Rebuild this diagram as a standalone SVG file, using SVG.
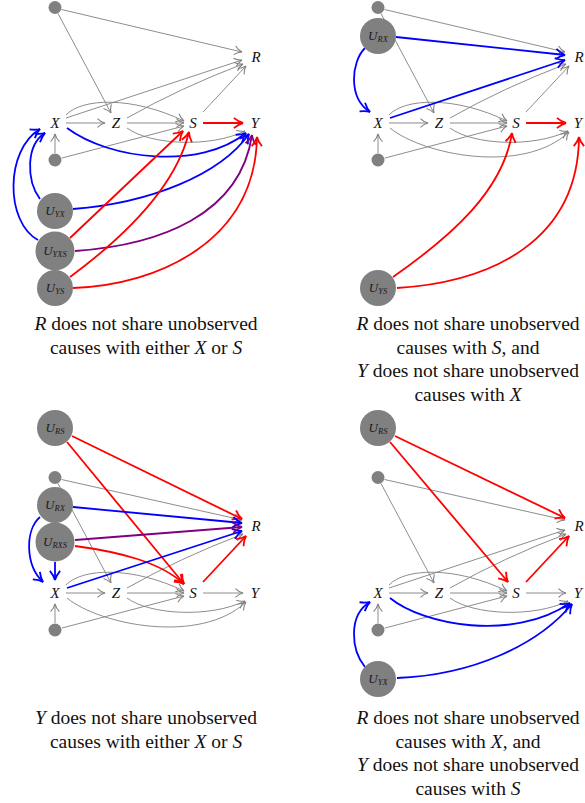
<svg xmlns="http://www.w3.org/2000/svg" width="585" height="803" viewBox="0 0 585 803">
<style>
.e{fill:none;stroke:#808080;stroke-width:0.9;marker-end:url(#ag)}
.r{fill:none;stroke:#ff0000;stroke-width:1.8;marker-end:url(#ar)}
.b{fill:none;stroke:#0000ff;stroke-width:1.8;marker-end:url(#ab)}
.p{fill:none;stroke:#800080;stroke-width:1.8;marker-end:url(#ap)}
.n{fill:#808080}
.lab{font-family:"Liberation Serif",serif;font-style:italic;font-size:15px;fill:#111;text-anchor:middle}
.u{font-family:"Liberation Serif",serif;font-style:italic;font-size:13px;fill:#1a1a1a;text-anchor:middle}
.sub{font-size:8.5px}
.cap{font-family:"Liberation Serif",serif;font-size:19.5px;fill:#111;text-anchor:middle}
.i{font-style:italic}
</style>
<defs>
<marker id="ag" markerUnits="userSpaceOnUse" markerWidth="14" markerHeight="14" refX="0" refY="0" viewBox="-8 -6 10 12" orient="auto" overflow="visible"><path d="M-6.5,-3.8 C-4.3,-1.6 -1.6,-0.4 0,0 C-1.6,0.4 -4.3,1.6 -6.5,3.8" fill="none" stroke="#808080" stroke-width="0.9"/></marker>
<marker id="ar" markerUnits="userSpaceOnUse" markerWidth="16" markerHeight="16" refX="0" refY="0" viewBox="-10 -7 12 14" orient="auto" overflow="visible"><path d="M-8,-4.5 C-5,-2 -2,-0.5 0,0 C-2,0.5 -5,2 -8,4.5" fill="none" stroke="#ff0000" stroke-width="1.6"/></marker>
<marker id="ab" markerUnits="userSpaceOnUse" markerWidth="16" markerHeight="16" refX="0" refY="0" viewBox="-10 -7 12 14" orient="auto" overflow="visible"><path d="M-8,-4.5 C-5,-2 -2,-0.5 0,0 C-2,0.5 -5,2 -8,4.5" fill="none" stroke="#0000ff" stroke-width="1.6"/></marker>
<marker id="ap" markerUnits="userSpaceOnUse" markerWidth="16" markerHeight="16" refX="0" refY="0" viewBox="-10 -7 12 14" orient="auto" overflow="visible"><path d="M-8,-4.5 C-5,-2 -2,-0.5 0,0 C-2,0.5 -5,2 -8,4.5" fill="none" stroke="#800080" stroke-width="1.6"/></marker>
</defs>

<!-- Top-left panel -->
<g id="panel-tl">
<g id="tl-edges">
<path class="e" d="M61.5,9.5 L242,52"/>
<path class="e" d="M58,13.5 L111,113"/>
<path class="e" d="M66,123 L105,123"/>
<path class="e" d="M127,123 L184,123"/>
<path class="e" d="M66,115 C82,98 132,96 184,121"/>
<path class="e" d="M127,128 C150,145 210,148 245,131"/>
<path class="e" d="M55,153 L55,134"/>
<path class="e" d="M62,158 L184,126"/>
<path class="e" d="M66,118 L242,60"/>
<path class="e" d="M127,118 Q180,88 243,64"/>
<path class="e" d="M203,112 L246,66"/>
<path class="r" d="M203,123 L243,123"/>
<path class="b" d="M67,128 C110,160 200,170 246,133"/>
<path class="b" d="M40,199 C26,180 26,145 45,133"/>
<path class="b" d="M38,240 C5,222 5,150 40,129"/>
<path class="b" d="M73,209 C150,203 220,175 249,134"/>
<path class="p" d="M75,251 C160,245 240,215 252,135"/>
<path class="r" d="M70,238 L183,131"/>
<path class="r" d="M70,277 C120,240 175,190 189,132"/>
<path class="r" d="M73,288 C160,285 255,240 257,137"/>
</g>
<g id="tl-W"><circle class="n" cx="55" cy="7.5" r="6.5"/></g>
<g id="tl-P"><circle class="n" cx="55" cy="160" r="6.5"/></g>
<g id="tl-UYX"><circle class="n" cx="55" cy="211" r="18"/><text class="u" x="55" y="215">U<tspan class="sub" dy="1.5">YX</tspan></text></g>
<g id="tl-UYXS"><circle class="n" cx="55" cy="251" r="19.5"/><text class="u" x="55" y="255">U<tspan class="sub" dy="1.5">YXS</tspan></text></g>
<g id="tl-UYS"><circle class="n" cx="55" cy="288" r="18"/><text class="u" x="55" y="292">U<tspan class="sub" dy="1.5">YS</tspan></text></g>
<g id="tl-X"><text class="lab" x="55" y="128">X</text></g>
<g id="tl-Z"><text class="lab" x="116" y="128">Z</text></g>
<g id="tl-S"><text class="lab" x="193" y="128">S</text></g>
<g id="tl-Y"><text class="lab" x="255" y="128">Y</text></g>
<g id="tl-R"><text class="lab" x="256" y="62">R</text></g>
<g id="tl-caption">
<text class="cap" x="146" y="330"><tspan class="i">R</tspan> does not share unobserved</text>
<text class="cap" x="146" y="353.5">causes with either <tspan class="i">X</tspan> or <tspan class="i">S</tspan></text>
</g>
</g>

<!-- Top-right panel -->
<g id="panel-tr" transform="translate(323,0)">
<g id="tr-edges">
<path class="e" d="M61.5,9.5 L242,52"/>
<path class="e" d="M58,13.5 L111,113"/>
<path class="e" d="M66,123 L105,123"/>
<path class="e" d="M127,123 L184,123"/>
<path class="e" d="M66,115 C82,98 132,96 184,121"/>
<path class="e" d="M127,128 C150,145 210,148 245,131"/>
<path class="e" d="M55,153 L55,134"/>
<path class="e" d="M62,158 L184,126"/>
<path class="e" d="M127,118 Q180,88 243,64"/>
<path class="e" d="M203,112 L246,66"/>
<path class="e" d="M67,128 C100,155 200,175 246,132"/>
<path class="r" d="M203,123 L243,123"/>
<path class="b" d="M73,37 L242,55"/>
<path class="b" d="M67,118 L242,60"/>
<path class="b" d="M42,48 C28,62 25,98 47,112"/>
<path class="r" d="M70,277 C130,235 180,190 189,133"/>
<path class="r" d="M74,288 C170,282 255,240 256,137"/>
</g>
<g id="tr-W"><circle class="n" cx="55" cy="7.5" r="6.5"/></g>
<g id="tr-URX"><circle class="n" cx="55" cy="36" r="18"/><text class="u" x="55" y="40">U<tspan class="sub" dy="1.5">RX</tspan></text></g>
<g id="tr-P"><circle class="n" cx="55" cy="160" r="6.5"/></g>
<g id="tr-UYS"><circle class="n" cx="55" cy="288" r="18"/><text class="u" x="55" y="292">U<tspan class="sub" dy="1.5">YS</tspan></text></g>
<g id="tr-X"><text class="lab" x="55" y="128">X</text></g>
<g id="tr-Z"><text class="lab" x="116" y="128">Z</text></g>
<g id="tr-S"><text class="lab" x="193" y="128">S</text></g>
<g id="tr-Y"><text class="lab" x="255" y="128">Y</text></g>
<g id="tr-R"><text class="lab" x="256" y="62">R</text></g>
<g id="tr-caption">
<text class="cap" x="145" y="330"><tspan class="i">R</tspan> does not share unobserved</text>
<text class="cap" x="145" y="353.5">causes with <tspan class="i">S</tspan>, and</text>
<text class="cap" x="145" y="377"><tspan class="i">Y</tspan> does not share unobserved</text>
<text class="cap" x="145" y="400.5">causes with <tspan class="i">X</tspan></text>
</g>
</g>

<!-- Bottom-left panel -->
<g id="panel-bl" transform="translate(0,470)">
<g id="bl-edges">
<path class="e" d="M61.5,9.5 L242,50"/>
<path class="e" d="M58,13.5 L111,113"/>
<path class="e" d="M66,123 L105,123"/>
<path class="e" d="M127,123 L184,123"/>
<path class="e" d="M66,115 C82,98 132,96 184,121"/>
<path class="e" d="M127,128 C150,145 210,148 245,131"/>
<path class="e" d="M55,153 L55,134"/>
<path class="e" d="M62,158 L184,126"/>
<path class="e" d="M127,118 Q180,88 243,64"/>
<path class="e" d="M203,123 L243,123"/>
<path class="e" d="M67,128 C100,155 200,175 246,132"/>
<path class="r" d="M72,-34 L242,49"/>
<path class="r" d="M67,-28 L184,114"/>
<path class="r" d="M203,112 L246,66"/>
<path class="r" d="M75,76 C120,82 160,92 184,114"/>
<path class="b" d="M73,37 L242,53"/>
<path class="b" d="M67,118 L242,61"/>
<path class="b" d="M40,47 C25,60 25,95 43,112"/>
<path class="b" d="M55,92 L55,110"/>
<path class="p" d="M75,70 L242,57"/>
</g>
<g id="bl-URS"><circle class="n" cx="55" cy="-42" r="18"/><text class="u" x="55" y="-38">U<tspan class="sub" dy="1.5">RS</tspan></text></g>
<g id="bl-W"><circle class="n" cx="55" cy="7.5" r="6.5"/></g>
<g id="bl-URX"><circle class="n" cx="55" cy="35" r="18"/><text class="u" x="55" y="39">U<tspan class="sub" dy="1.5">RX</tspan></text></g>
<g id="bl-URXS"><circle class="n" cx="55" cy="72" r="19.5"/><text class="u" x="55" y="76">U<tspan class="sub" dy="1.5">RXS</tspan></text></g>
<g id="bl-P"><circle class="n" cx="55" cy="160" r="6.5"/></g>
<g id="bl-X"><text class="lab" x="55" y="128">X</text></g>
<g id="bl-Z"><text class="lab" x="116" y="128">Z</text></g>
<g id="bl-S"><text class="lab" x="193" y="128">S</text></g>
<g id="bl-Y"><text class="lab" x="255" y="128">Y</text></g>
<g id="bl-R"><text class="lab" x="256" y="61">R</text></g>
</g>
<g id="bl-caption">
<text class="cap" x="146" y="724"><tspan class="i">Y</tspan> does not share unobserved</text>
<text class="cap" x="146" y="747.5">causes with either <tspan class="i">X</tspan> or <tspan class="i">S</tspan></text>
</g>

<!-- Bottom-right panel -->
<g id="panel-br" transform="translate(323,470)">
<g id="br-edges">
<path class="e" d="M61.5,9.5 L242,50"/>
<path class="e" d="M58,13.5 L111,113"/>
<path class="e" d="M66,123 L105,123"/>
<path class="e" d="M127,123 L184,123"/>
<path class="e" d="M66,115 C82,98 132,96 184,121"/>
<path class="e" d="M127,128 C150,145 210,148 245,131"/>
<path class="e" d="M55,153 L55,134"/>
<path class="e" d="M62,158 L184,126"/>
<path class="e" d="M66,118 L242,60"/>
<path class="e" d="M127,118 Q180,88 243,64"/>
<path class="e" d="M203,123 L243,123"/>
<path class="r" d="M72,-34 L242,48"/>
<path class="r" d="M67,-28 L185,112"/>
<path class="r" d="M203,112 L246,66"/>
<path class="b" d="M67,128 C100,155 190,172 247,133"/>
<path class="b" d="M42,197 C28,180 25,145 47,132"/>
<path class="b" d="M74,208 C150,205 215,175 249,134"/>
</g>
<g id="br-URS"><circle class="n" cx="55" cy="-42" r="18"/><text class="u" x="55" y="-38">U<tspan class="sub" dy="1.5">RS</tspan></text></g>
<g id="br-W"><circle class="n" cx="55" cy="7.5" r="6.5"/></g>
<g id="br-P"><circle class="n" cx="55" cy="160" r="6.5"/></g>
<g id="br-UYX"><circle class="n" cx="55" cy="209" r="18"/><text class="u" x="55" y="213">U<tspan class="sub" dy="1.5">YX</tspan></text></g>
<g id="br-X"><text class="lab" x="55" y="128">X</text></g>
<g id="br-Z"><text class="lab" x="116" y="128">Z</text></g>
<g id="br-S"><text class="lab" x="193" y="128">S</text></g>
<g id="br-Y"><text class="lab" x="255" y="128">Y</text></g>
<g id="br-R"><text class="lab" x="256" y="61">R</text></g>
</g>
<g id="br-caption">
<text class="cap" x="468" y="724"><tspan class="i">R</tspan> does not share unobserved</text>
<text class="cap" x="468" y="747.5">causes with <tspan class="i">X</tspan>, and</text>
<text class="cap" x="468" y="771"><tspan class="i">Y</tspan> does not share unobserved</text>
<text class="cap" x="468" y="794.5">causes with <tspan class="i">S</tspan></text>
</g>
</svg>
